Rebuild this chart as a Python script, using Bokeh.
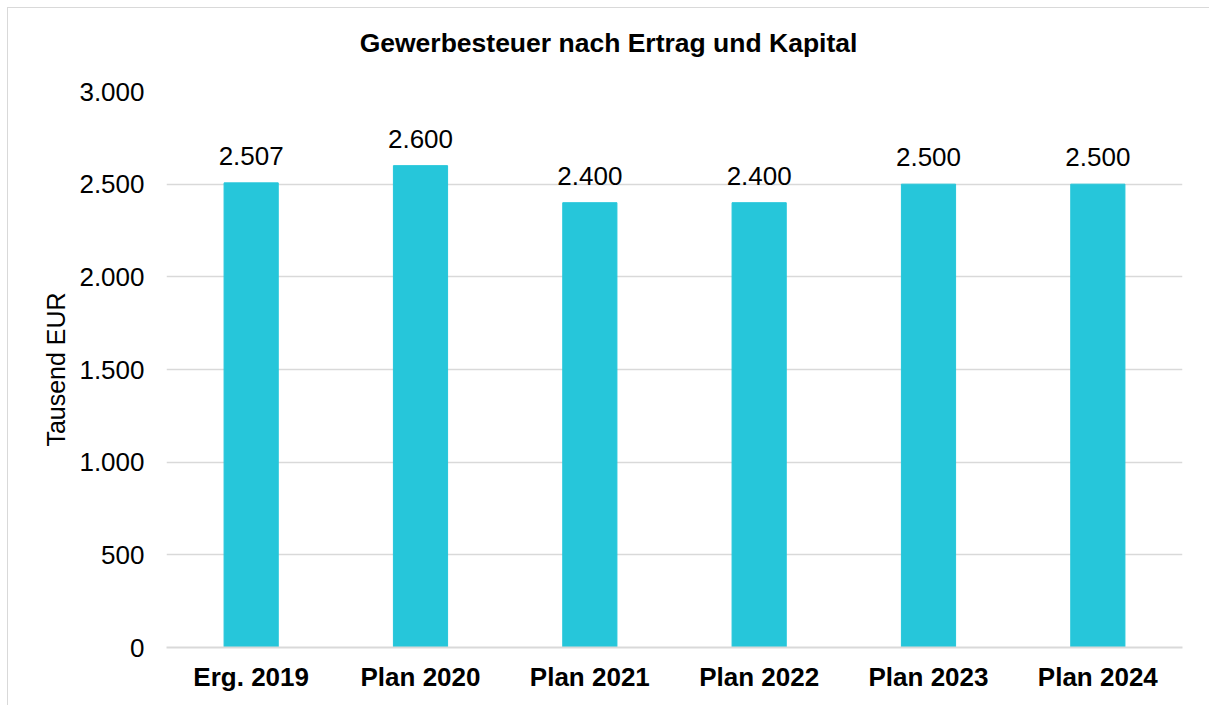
from bokeh.plotting import figure
from bokeh.models import ColumnDataSource, CustomJSTickFormatter, FixedTicker, Range1d, Div
from bokeh.layouts import column
from bokeh.embed import file_html
from bokeh.resources import INLINE

title_text = "Gewerbesteuer nach Ertrag und Kapital"
categories = ["Erg. 2019", "Plan 2020", "Plan 2021", "Plan 2022", "Plan 2023", "Plan 2024"]
values = [2507, 2600, 2400, 2400, 2500, 2500]
labels = ["2.507", "2.600", "2.400", "2.400", "2.500", "2.500"]
y_ticks = [0, 500, 1000, 1500, 2000, 2500, 3000]

FONT = "Liberation Sans"

src = ColumnDataSource(dict(cat=categories, val=values, lab=labels))

head = Div(text=('<div style="width:1201px;text-align:center;font-family:\'Liberation Sans\';'
                 'font-weight:bold;font-size:26.5px;line-height:30px;padding-top:20px;'
                 'color:#000000;margin:0">' + title_text + '</div>'),
           width=1201, height=50, styles={"margin": "0", "padding": "0"})

p = figure(x_range=categories, y_range=Range1d(0, 3000), width=1201, height=647,
           output_backend="svg", toolbar_location=None,
           min_border_left=158, min_border_right=27, min_border_top=33, min_border_bottom=58)

p.vbar(x="cat", top="val", width=0.32, color="#26C6DA", source=src)
p.text(x="cat", y="val", text="lab", source=src, text_align="center", text_baseline="bottom",
       y_offset=-18, text_font_size="26px", text_font={"value": FONT}, text_color="#000000")

p.x_range.range_padding = 0
p.xgrid.grid_line_color = None
p.ygrid.grid_line_color = "#d9d9d9"
p.ygrid.grid_line_width = 1.5
p.ygrid.ticker = FixedTicker(ticks=y_ticks)
p.outline_line_color = None

p.yaxis.ticker = FixedTicker(ticks=y_ticks)
p.yaxis.formatter = CustomJSTickFormatter(code="return tick.toFixed(0).replace(/\\B(?=(\\d{3})+(?!\\d))/g, '.');")
p.yaxis.axis_line_color = None
p.yaxis.major_tick_line_color = None
p.yaxis.minor_tick_line_color = None
p.yaxis.major_label_text_font = FONT
p.yaxis.major_label_text_font_size = "26px"
p.yaxis.major_label_text_color = "#000000"
p.yaxis.major_label_standoff = 16
p.yaxis.axis_label = "Tausend EUR"
p.yaxis.axis_label_text_font = FONT
p.yaxis.axis_label_text_font_size = "25px"
p.yaxis.axis_label_text_font_style = "normal"
p.yaxis.axis_label_text_color = "#000000"
p.yaxis.axis_label_standoff = 6

p.xaxis.axis_line_color = "#d9d9d9"
p.xaxis.axis_line_width = 2
p.xaxis.major_tick_line_color = None
p.xaxis.minor_tick_line_color = None
p.xaxis.major_label_text_font = FONT
p.xaxis.major_label_text_font_size = "26px"
p.xaxis.major_label_text_font_style = "bold"
p.xaxis.major_label_text_color = "#000000"
p.xaxis.major_label_standoff = 8

layout = column(head, p, spacing=0,
                styles={"margin": "7px 0 0 7px",
                        "border-left": "1px solid #d9d9d9", "border-top": "1px solid #d9d9d9"})

open("out.html", "w").write(file_html(layout, INLINE))
